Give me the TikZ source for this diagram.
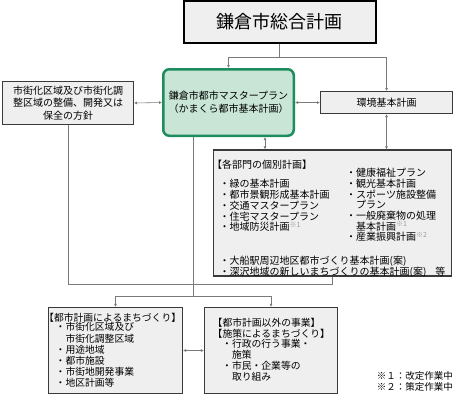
\documentclass[tikz,border=0pt]{standalone}
\usepackage{fontspec}
\setmainfont{Noto Sans CJK JP}
\usepackage{xcolor}
\usepackage{tikz}
\usetikzlibrary{arrows.meta,calc}
\definecolor{planGray}{HTML}{EFEFEF}
\definecolor{planInk}{HTML}{3A3A3A}
\definecolor{linkGray}{HTML}{7A7A7A}
\definecolor{kamakuraGreen}{HTML}{1E8C5E}
\definecolor{kamakuraMint}{HTML}{C8E5D5}
\definecolor{noteGray}{HTML}{9A9A9A}
\newcommand{\noteMark}[1]{\textsuperscript{\color{noteGray}※#1}}
\tikzset{
  topBox/.style={
    rectangle,
    draw=black,
    fill=planGray,
    line width=2pt,
    minimum width=192pt,
    minimum height=42pt,
    inner sep=0pt,
    font=\fontsize{18}{20}\selectfont
  },
  masterBox/.style={
    rectangle,
    rounded corners=6pt,
    draw=kamakuraGreen,
    fill=kamakuraMint,
    line width=2.5pt,
    minimum width=130.5pt,
    minimum height=66.5pt,
    inner sep=0pt,
    align=center,
    font=\fontsize{10}{13}\selectfont
  },
  planBox/.style={
    rectangle,
    draw=planInk,
    fill=planGray,
    line width=1pt,
    inner sep=0pt,
    align=center,
    font=\fontsize{10}{12.5}\selectfont
  },
  listBox/.style={
    rectangle,
    draw=planInk,
    fill=planGray,
    line width=1.3pt,
    inner sep=0pt
  },
  listText/.style={
    anchor=north west,
    inner sep=0pt,
    align=left,
    font=\fontsize{10}{10.75}\selectfont
  },
  link/.style={
    draw=linkGray,
    line width=0.6pt
  },
  arrow/.style={
    link,
    -{Latex[length=3pt,width=3pt]}
  },
  dblArrow/.style={
    link,
    {Latex[length=3pt,width=3pt]}-{Latex[length=3pt,width=3pt]}
  }
}
\begin{document}
\begin{tikzpicture}[x=1pt,y=-1pt]
  \useasboundingbox (0,0) rectangle (454,400);
  % boxes
  \node[topBox] (top) at (279.5,22) {鎌倉市総合計画};
  \node[masterBox] (master) at (228.5,102.5) {鎌倉市都市マスタープラン\\（かまくら都市基本計画）};
  \node[planBox,minimum width=131pt,minimum height=43pt] (left) at (68,103)
    {市街化区域及び市街化調\\整区域の整備、開発又は\\保全の方針};
  \node[planBox,minimum width=132pt,minimum height=22pt] (env) at (386.5,102.5) {環境基本計画};
  \node[listBox,minimum width=238pt,minimum height=126pt] (plans) at (332.5,213) {};
  \node[listBox,minimum width=134pt,minimum height=86pt] (city) at (115.5,350.5) {};
  \node[listBox,minimum width=133pt,minimum height=86pt] (other) at (271,350.5) {};
  % texts in the list boxes
  \node[listText] (plansHead) at (212,160) {【各部門の個別計画】};
  \node[listText] (plansLeft) at (219.5,179.3)
    {・緑の基本計画\\・都市景観形成基本計画\\・交通マスタープラン\\・住宅マスタープラン\\・地域防災計画\noteMark{1}};
  \node[listText,font=\fontsize{10}{10.7}\selectfont] (plansRight) at (346,168)
    {・健康福祉プラン\\・観光基本計画\\・スポーツ施設整備\\　プラン\\・一般廃棄物の処理\\　基本計画\noteMark{1}\\・産業振興計画\noteMark{2}};
  \node[listText,font=\fontsize{10}{10.5}\selectfont] (plansExtra) at (219.5,256)
    {・大船駅周辺地区都市づくり基本計画(案)\\・深沢地域の新しいまちづくりの基本計画(案)\hspace{9pt}等};
  \node[listText,font=\fontsize{9.8}{11}\selectfont] (cityHead) at (44,312.5) {【都市計画によるまちづくり】};
  \node[listText,font=\fontsize{9.8}{11.2}\selectfont] (cityList) at (55.5,322.5)
    {・市街化区域及び\\　市街化調整区域\\・用途地域\\・都市施設\\・市街地開発事業\\・地区計画等};
  \node[listText,font=\fontsize{9.8}{10.6}\selectfont] (otherHead) at (212.5,318)
    {【都市計画以外の事業】\\【施策によるまちづくり】};
  \node[listText,font=\fontsize{9.8}{11}\selectfont] (otherList) at (222,339.5)
    {・行政の行う事業・\\　施策\\・市民・企業等の\\　取り組み};
  \node[listText,anchor=north east,font=\fontsize{9.5}{11}\selectfont] (notes) at (453,371.5)
    {※１：改定作業中\\※２：策定作業中};
  % connectors
  \draw[link] (top.south) -- ++(0,13) coordinate (topSplit);
  \draw[arrow] (topSplit) -| (master.north);
  \draw[arrow] (topSplit) -| (env.north);
  \draw[dblArrow] (left.east) -- (master.west);
  \draw[dblArrow] (master.east) -- (env.west);
  \draw[dblArrow] (env.south) -- (env.south |- plans.north);
  \coordinate (masterPlansLink) at ($(master.south)+(36.5,0)$);
  \draw[dblArrow] (masterPlansLink) -- (masterPlansLink |- plans.north);
  \draw[link] (left.south) |- ($(plans.south)+(0,8)$) -- (plans.south);
  \coordinate (hub) at (193,296);
  \draw[link] (master.south -| hub) -- (hub);
  \draw[arrow] (hub) -| (city.north);
  \draw[arrow] (hub) -| (other.north);
  \draw[dblArrow] (city.east) -- (other.west);
\end{tikzpicture}
\end{document}
